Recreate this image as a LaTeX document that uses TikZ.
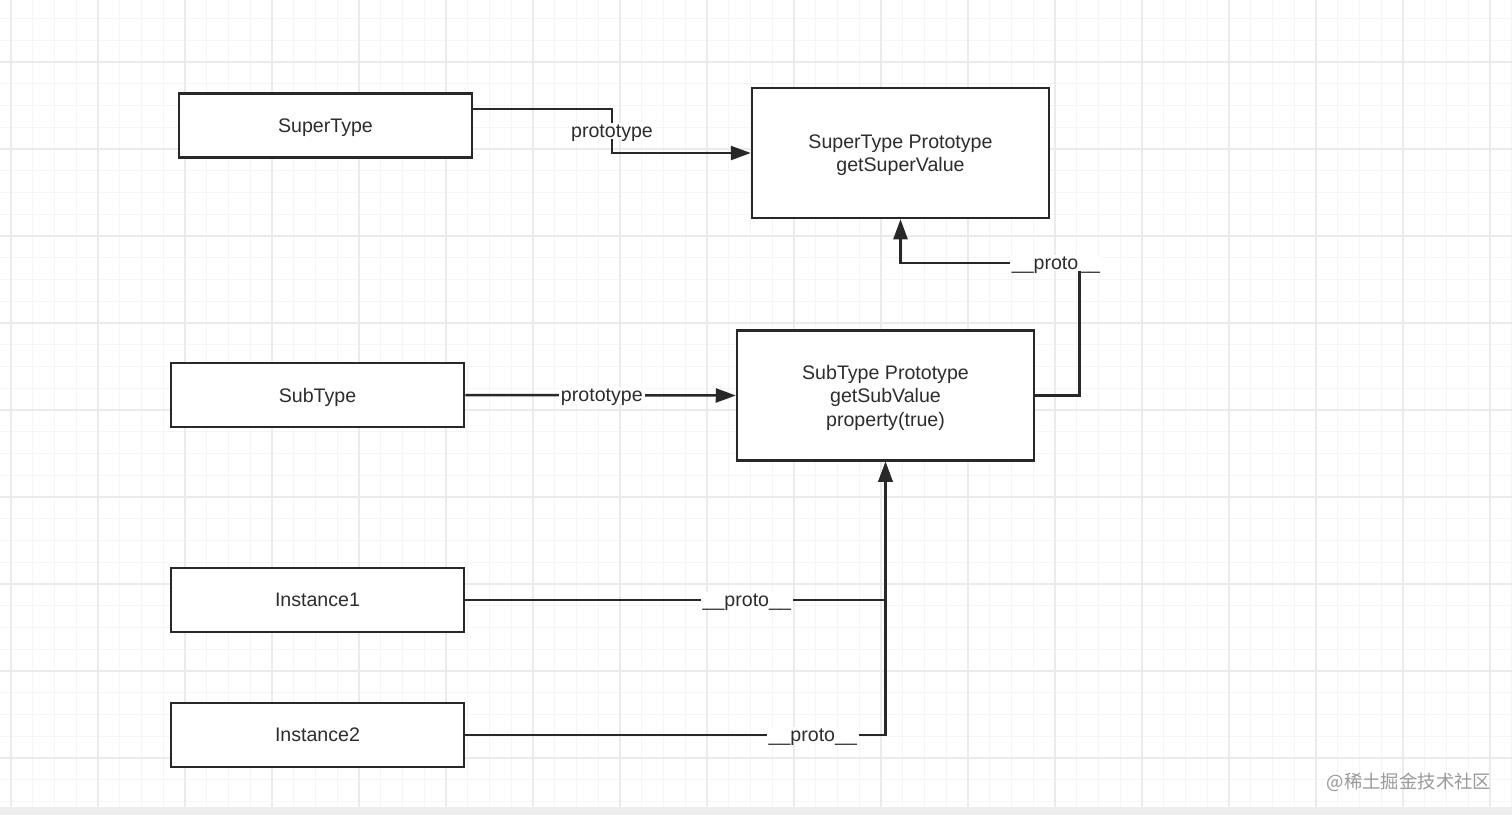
\documentclass[tikz,border=0pt]{standalone}
\usepackage{fontspec}
\setmainfont{Liberation Sans}
\newfontfamily\cjkfont{Noto Sans CJK SC}
\usetikzlibrary{calc, positioning, arrows.meta}
\definecolor{InkGrey}{RGB}{40, 40, 40}
\definecolor{TextGrey}{RGB}{45, 45, 45}
\definecolor{GridMinor}{RGB}{245, 245, 245}
\definecolor{GridMajor}{RGB}{235, 235, 235}
\definecolor{StripGrey}{RGB}{238, 238, 238}

\tikzset{
    objbox/.style={draw=InkGrey, line width=1.25pt, fill=white, text=TextGrey,
        minimum width=146.5pt, minimum height=32pt, inner sep=0pt, text depth=0pt,
        font=\fontsize{9.8}{11.75}\selectfont, align=center},
    protobox/.style={objbox, minimum width=148.5pt, minimum height=65pt},
    link/.style={draw=InkGrey, line width=1.25pt,
        -{Triangle[length=10pt, width=7pt]}},
    lbl/.style={fill=white, text=TextGrey, inner sep=1pt, text depth=0pt,
        font=\fontsize{9.8}{11.75}\selectfont}
}

\begin{document}
\begin{tikzpicture}[x=0.5pt, y=-0.5pt]
    % Fondo y cuadricula
    \useasboundingbox (0,0) rectangle (1512,815);
    \fill[white] (0,0) rectangle (1512,815);
    \foreach \i in {0,...,69}
        \draw[GridMinor, line width=0.5pt] ({11+21.75*\i},0) -- ({11+21.75*\i},815);
    \foreach \j in {1,...,38}
        \draw[GridMinor, line width=0.5pt] (0,{-25+21.75*\j}) -- (1512,{-25+21.75*\j});
    \foreach \i in {0,...,17}
        \draw[GridMajor, line width=0.6pt] ({11+87*\i},0) -- ({11+87*\i},815);
    \foreach \j in {1,...,9}
        \draw[GridMajor, line width=0.6pt] (0,{-25+87*\j}) -- (1512,{-25+87*\j});
    \fill[StripGrey] (0,807) rectangle (1512,815);

    % Cajas
    \node[objbox] (supertype) at (325.5,125.5) {SuperType};
    \node[protobox] (superproto) at (900.5,153) {SuperType Prototype\\getSuperValue};
    \node[objbox] (subtype) at (317.5,395) {SubType};
    \node[protobox] (subproto) at (885.5,395.5) {SubType Prototype\\getSubValue\\property(true)};
    \node[objbox] (inst1) at (317.5,600) {Instance1};
    \node[objbox] (inst2) at (317.5,735) {Instance2};

    % Conectores
    \coordinate (stout) at ($(supertype.north east)!0.25!(supertype.south east)$);
    \coordinate (stbend) at (612,0 |- stout);
    \draw[link] (stout) -- (stbend)
        -- node[lbl] {prototype} (stbend |- superproto.west) -- (superproto.west);

    \draw[link] (subtype.east) -- node[lbl, pos=0.505] {prototype} (subproto.west);

    \coordinate (spbend) at ($(subproto.east)+(44,0)$);
    \coordinate (sptop) at (spbend |- 0,263);
    \draw[link] (subproto.east) -- (spbend) -- (sptop)
        -- node[lbl, pos=0.13] {\_\_proto\_\_} (sptop -| superproto.south) -- (superproto.south);

    \draw[link] (inst1.east) -- node[lbl, pos=0.67] {\_\_proto\_\_}
        (inst1.east -| subproto.south) -- (subproto.south);
    \draw[link] (inst2.east) -- node[lbl, pos=0.827] {\_\_proto\_\_}
        (inst2.east -| subproto.south) -- (subproto.south);

    % Marca de agua
    \node[text=gray!80, font=\cjkfont\fontsize{9.2}{11}\selectfont] (mark) at (1409,782) {@稀土掘金技术社区};
\end{tikzpicture}
\end{document}
